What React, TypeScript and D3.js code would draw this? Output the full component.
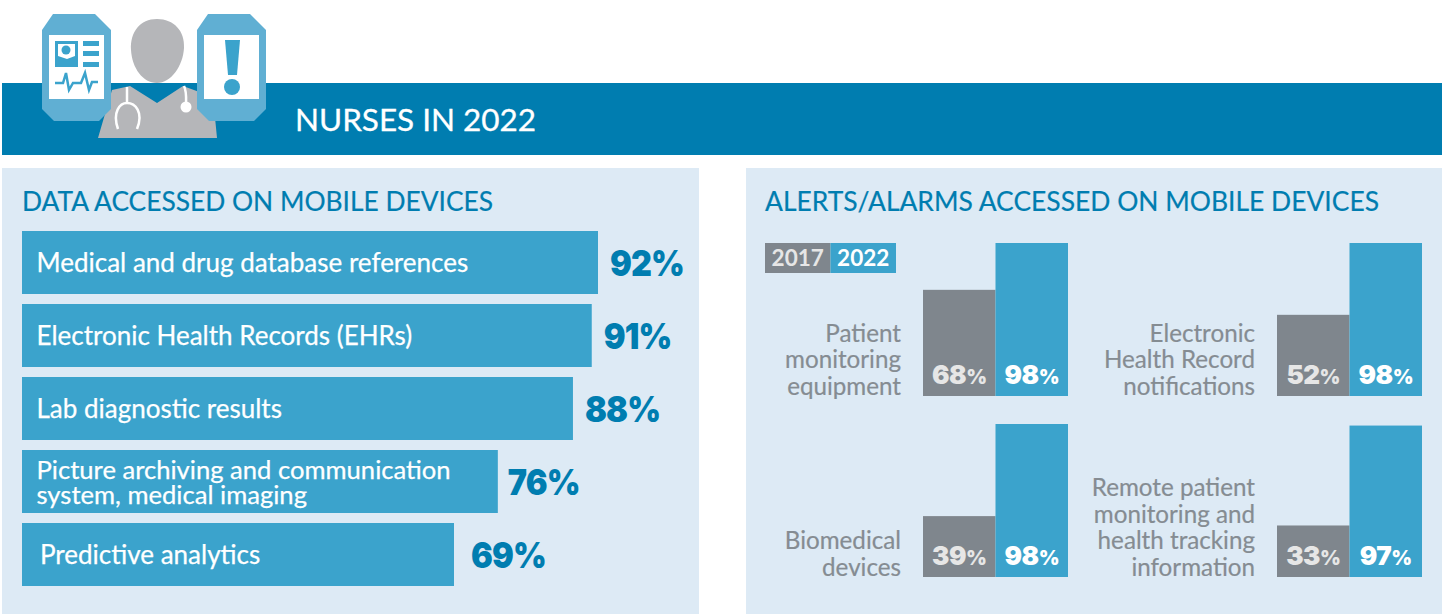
import React from "react";
import * as d3 from "d3";

const dataLabels = [
  ["Medical and drug database references"],
  ["Electronic Health Records (EHRs)"],
  ["Lab diagnostic results"],
  ["Picture archiving and communication", "system, medical imaging"],
  ["Predictive analytics"],
];
const dataValues = [92, 91, 88, 76, 69];

const alertLabels = [
  ["Patient", "monitoring", "equipment"],
  ["Electronic", "Health Record", "notifications"],
  ["Biomedical", "devices"],
  ["Remote patient", "monitoring and", "health tracking", "information"],
];
const values2017 = [68, 52, 39, 33];
const values2022 = [98, 98, 98, 97];
const legendYears = ["2017", "2022"];

const DARK = "#007dB0";
const MID = "#3ba3cc";
const PALE = "#ddeaf5";
const GREY = "#7f868d";
const TEXTGREY = "#858c92";
const DEVICE = "#60afd3";
const BODY = "#b5b6b9";
const SANS = "Lato, 'Open Sans', sans-serif";
const HEAVY = "Inter, Lato, sans-serif";

const hX = d3.scaleLinear().domain([0, 92]).range([0, 576]);
const hY = d3.scaleBand<number>().domain(d3.range(5)).range([231, 586]).paddingInner(10 / 73).paddingOuter(0);
const vH = d3.scaleLinear().domain([0, 98]).range([0, 153]);

const cellX = [923, 1277];
const baseY = [396, 577];
const barW = 72.5;

function Device({ x }: { x: number }) {
  const pts: [number, number][] = [[x + 11, 14], [x + 53, 14], [x + 69, 30], [x + 69, 109], [x + 57, 121], [x + 12, 121], [x, 109], [x, 30]];
  return (
    <g>
      <path d={d3.line()(pts) + "Z"} fill={DEVICE} />
      <rect x={x + 7} y={35} width={55} height={64} fill="#fff" />
    </g>
  );
}

function Icon() {
  const body: [number, number][] = [[98, 138], [112, 90], [130, 86], [157, 103], [183, 86], [213, 97], [217, 138]];
  const pulse: [number, number][] = [[55, 83], [63, 83], [66, 73], [69, 90], [73, 83], [81, 83], [85, 73], [89, 90], [92, 82], [98, 82]];
  return (
    <g>
      <path d="M157 19C174 19 185 31 184 48C183 66 171 83 157 83C143 83 132 68 131 50C130 32 140 19 157 19Z" fill={BODY} />
      <path d={d3.line()(body) + "Z"} fill={BODY} />
      <path d="M127 87V103M118 129C112 112 120 103 127 103C135 103 144 112 137 129" fill="none" stroke="#fff" strokeWidth={2.5} />
      <path d="M184 86C187 92 186 100 186 106" fill="none" stroke="#fff" strokeWidth={2.5} />
      <circle cx={186} cy={107} r={5.5} fill="#fff" />
      <Device x={42} />
      <Device x={197} />
      <rect x={55} y={41} width={23} height={26} fill={MID} />
      <path d="M58 44H75V56L67 59L58 56Z" fill="#fff" />
      <circle cx={66} cy={50} r={4.5} fill={MID} />
      <rect x={83} y={41} width={16} height={5} fill={MID} />
      <rect x={83} y={51} width={16} height={5} fill={MID} />
      <rect x={83} y={62} width={16} height={5} fill={MID} />
      <path d={d3.line()(pulse) ?? ""} fill="none" stroke={MID} strokeWidth={2.5} />
      <path d="M225 40H240L237 75H228Z" fill={MID} />
      <circle cx={232} cy={87} r={8} fill={MID} />
    </g>
  );
}

export default function App() {
  return (
    <svg width={1442} height={614} viewBox="0 0 1442 614" style={{ position: "absolute", left: 0, top: 0, display: "block" }}>
      <rect width={1442} height={614} fill="#fff" />
      <rect x={2} y={83} width={1440} height={72} fill={DARK} />
      <Icon />
      <text x={295} y={131} fill="#fff" stroke="#fff" strokeWidth={0.3} fontFamily={SANS} fontSize={31} textLength={241} lengthAdjust="spacingAndGlyphs">NURSES IN 2022</text>

      <rect x={2} y={168} width={697} height={446} fill={PALE} />
      <rect x={746} y={168} width={696} height={446} fill={PALE} />
      <text x={22} y={211} fill={DARK} stroke={DARK} strokeWidth={0.2} fontFamily={SANS} fontSize={26} textLength={471} lengthAdjust="spacingAndGlyphs">DATA ACCESSED ON MOBILE DEVICES</text>
      <text x={765} y={211} fill={DARK} stroke={DARK} strokeWidth={0.2} fontFamily={SANS} fontSize={26} textLength={614} lengthAdjust="spacingAndGlyphs">ALERTS/ALARMS ACCESSED ON MOBILE DEVICES</text>

      {dataValues.map((v, i) => {
        const y = hY(i) as number;
        const h = hY.bandwidth();
        const lines = dataLabels[i];
        const px = 22 + hX(v) + (i === 4 ? 17 : i === 3 ? 10 : 12);
        const lx = i === 4 ? 40 : 36.5;
        return (
          <g key={i}>
            <rect x={22} y={y} width={hX(v)} height={h} fill={MID} />
            <text fill="#fff" stroke="#fff" strokeWidth={0.25} fontFamily={SANS} fontSize={lines.length > 1 ? 25.6 : 26}>
              {lines.map((l, j) => (
                <tspan key={j} x={lx} y={y + h / 2 + 9.5 + (j - (lines.length - 1) / 2) * 25}>{l}</tspan>
              ))}
            </text>
            <text transform={`translate(${px},${y + h / 2 + 13}) scale(0.9,1)`} fill={DARK} fontFamily={HEAVY} fontWeight={900} fontSize={36} letterSpacing={-1}>{v}%</text>
          </g>
        );
      })}

      {legendYears.map((yr, i) => (
        <g key={yr}>
          <rect x={765 + i * 65.5} y={243} width={65.5} height={30} fill={i ? MID : GREY} />
          <text x={765 + i * 65.5 + 32.7} y={266} textAnchor="middle" fill={i ? "#fff" : "#e6e6e6"} fontFamily={SANS} fontWeight={700} fontSize={22.5}>{yr}</text>
        </g>
      ))}

      {alertLabels.map((lines, i) => {
        const x0 = cellX[i % 2];
        const base = baseY[Math.floor(i / 2)];
        const series = [values2017[i], values2022[i]];
        return (
          <g key={i}>
            {series.map((v, k) => (
              <g key={k}>
                <rect x={x0 + k * barW} y={base - vH(v)} width={barW} height={vH(v)} fill={k ? MID : GREY} />
                <text x={x0 + k * barW + barW / 2} y={base - 12} textAnchor="middle" fill={k ? "#fff" : "#e6e6e6"} fontFamily={HEAVY} fontWeight={900} fontSize={26} letterSpacing={-0.5}>
                  {v}<tspan fontSize={20}>%</tspan>
                </text>
              </g>
            ))}
            {lines.map((l, j) => (
              <text key={j} x={x0 - 22} y={base - 1 + (j - lines.length + 1) * 26.7} textAnchor="end" fill={TEXTGREY} stroke={TEXTGREY} strokeWidth={0.2} fontFamily={SANS} fontSize={24.2}>{l}</text>
            ))}
          </g>
        );
      })}
    </svg>
  );
}
